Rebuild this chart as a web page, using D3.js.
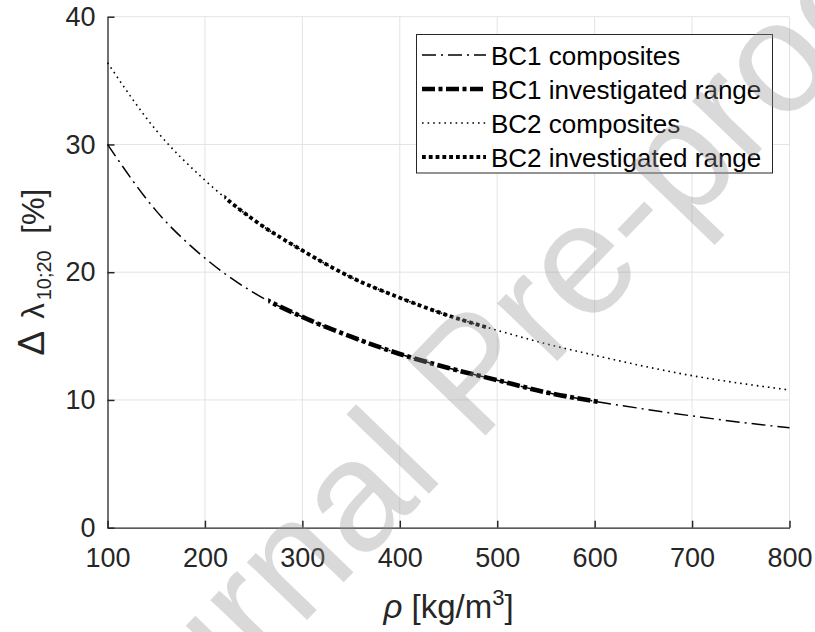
<!DOCTYPE html>
<html>
<head>
<meta charset="utf-8">
<script src="https://cdn.jsdelivr.net/npm/d3@7"></script>
<style>
  body { margin: 0; background: #fff; }
  svg text { font-family: "Liberation Sans", Arial, sans-serif; }
</style>
</head>
<body>
<div id="viz"></div>
<script>
const margin = {top: 16.7, right: 25.5, bottom: 104.3, left: 107.5};
const width = 815;
const height = 632;

// density [kg/m3]
const rho = [100, 150, 200, 250, 300, 350, 400, 450, 500, 550, 600, 650, 700, 750, 800];
// delta lambda 10;20 [%]
const bc1 = [30.0, 24.8, 21.1, 18.4, 16.5, 14.95, 13.6, 12.5, 11.55, 10.6, 9.9, 9.3, 8.75, 8.25, 7.83];
const bc2 = [36.4, 31.1, 27.2, 24.1, 21.7, 19.6, 18.0, 16.6, 15.45, 14.4, 13.5, 12.65, 11.9, 11.3, 10.78];
// investigated density ranges
const bc1Range = [265, 605];
const bc2Range = [220, 490];

const xTicks = [100, 200, 300, 400, 500, 600, 700, 800];
const yTicks = [0, 10, 20, 30, 40];

const legendItems = [
  { label: 'BC1 composites', width: 1.5, dash: '14,5,2,5' },
  { label: 'BC1 investigated range', width: 4.6, dash: '13,3.5,4,3.5' },
  { label: 'BC2 composites', width: 1.6, dash: '1.6,4' },
  { label: 'BC2 investigated range', width: 3.8, dash: '3.8,3' },
];

const iw = width - margin.left - margin.right;
const ih = height - margin.top - margin.bottom;

var svg = d3.select("#viz")
  .append("svg")
  .attr("width", width)
  .attr("height", height);

var xscale = d3.scaleLinear().domain([100, 800]).range([0, iw]);
var yscale = d3.scaleLinear().domain([0, 40]).range([ih, 0]);

var g = svg.append("g")
  .attr("transform", "translate(" + margin.left + "," + margin.top + ")");

// grid
g.append("g")
  .selectAll("line")
  .data(xTicks.slice(1))
  .join("line")
    .attr("x1", d => xscale(d)).attr("x2", d => xscale(d))
    .attr("y1", 0).attr("y2", ih)
    .attr("stroke", "#e3e3e3").attr("stroke-width", 1);
g.append("g")
  .selectAll("line")
  .data(yTicks.slice(1))
  .join("line")
    .attr("x1", 0).attr("x2", iw)
    .attr("y1", d => yscale(d)).attr("y2", d => yscale(d))
    .attr("stroke", "#e3e3e3").attr("stroke-width", 1);

// axes
var x_axis = d3.axisBottom(xscale).tickValues(xTicks).tickSizeInner(-7).tickSizeOuter(0).tickPadding(20);
var y_axis = d3.axisLeft(yscale).tickValues(yTicks).tickSizeInner(-7).tickSizeOuter(0).tickPadding(12);

var gx = g.append("g").attr("transform", "translate(0," + ih + ")").call(x_axis);
var gy = g.append("g").call(y_axis);
[gx, gy].forEach(a => {
  a.select(".domain").attr("stroke", "#262626").attr("stroke-width", 1.3);
  a.selectAll(".tick line").attr("stroke", "#262626").attr("stroke-width", 1.5);
  a.selectAll(".tick text").attr("fill", "#262626").style("font-size", "27px");
});

// curves
var points1 = rho.map((r, i) => [r, bc1[i]]);
var points2 = rho.map((r, i) => [r, bc2[i]]);

var line = d3.line()
  .x(d => xscale(d[0]))
  .y(d => yscale(d[1]))
  .curve(d3.curveMonotoneX);

var defs = svg.append("defs");
function addClip(id, range) {
  defs.append("clipPath").attr("id", id)
    .append("rect")
      .attr("x", xscale(range[0]))
      .attr("y", -10)
      .attr("width", xscale(range[1]) - xscale(range[0]))
      .attr("height", ih + 20);
}
addClip("clip1", bc1Range);
addClip("clip2", bc2Range);

function drawCurve(pts, item, clip) {
  var p = g.append("path")
    .datum(pts)
    .attr("d", line)
    .attr("fill", "none")
    .attr("stroke", "#000")
    .attr("stroke-width", item.width)
    .attr("stroke-dasharray", item.dash);
  if (clip) p.attr("clip-path", "url(#" + clip + ")");
}
drawCurve(points1, legendItems[0]);
drawCurve(points1, legendItems[1], "clip1");
drawCurve(points2, legendItems[2]);
drawCurve(points2, legendItems[3], "clip2");

// legend
var leg = svg.append("g");
leg.append("rect")
  .attr("x", 416.5).attr("y", 34.5)
  .attr("width", 356).attr("height", 138.5)
  .attr("fill", "#fff").attr("stroke", "#262626").attr("stroke-width", 1);

leg.selectAll("line")
  .data(legendItems)
  .join("line")
    .attr("x1", 422).attr("x2", 486)
    .attr("y1", (d, i) => 55 + i * 34).attr("y2", (d, i) => 55 + i * 34)
    .attr("stroke", "#000")
    .attr("stroke-width", d => d.width)
    .attr("stroke-dasharray", d => d.dash);

leg.selectAll("text")
  .data(legendItems)
  .join("text")
    .attr("x", 491)
    .attr("y", (d, i) => 55 + i * 34 + 9.5)
    .style("font-size", "26px")
    .attr("fill", "#000")
    .text(d => d.label);

// axis titles
var ylab = svg.append("text")
  .attr("transform", "translate(44," + (margin.top + ih / 2) + ") rotate(-90)")
  .attr("text-anchor", "middle")
  .attr("fill", "#262626")
  .style("font-size", "31px");
ylab.append("tspan").style("font-size", "37px").text("\u0394");
ylab.append("tspan").attr("dx", 12).text("\u03bb");
ylab.append("tspan").attr("dx", 3).attr("dy", 7).style("font-size", "20px").text("10;20");
ylab.append("tspan").attr("dx", 8).attr("dy", -7).text(" [%]");

var xlab = svg.append("text")
  .attr("x", margin.left + iw / 2)
  .attr("y", 618)
  .attr("text-anchor", "middle")
  .attr("fill", "#262626")
  .style("font-size", "33px");
xlab.append("tspan").style("font-style", "italic").text("\u03c1");
xlab.append("tspan").text(" [kg/m");
xlab.append("tspan").attr("dy", -13).style("font-size", "22px").text("3");
xlab.append("tspan").attr("dy", 13).text("]");

// watermark
svg.append("text")
  .attr("transform", "translate(510,410) rotate(-46)")
  .attr("text-anchor", "middle")
  .attr("fill", "rgb(146,146,146)")
  .attr("fill-opacity", 0.35)
  .style("font-size", "158px")
  .text("Journal Pre-proof");
</script>
</body>
</html>
